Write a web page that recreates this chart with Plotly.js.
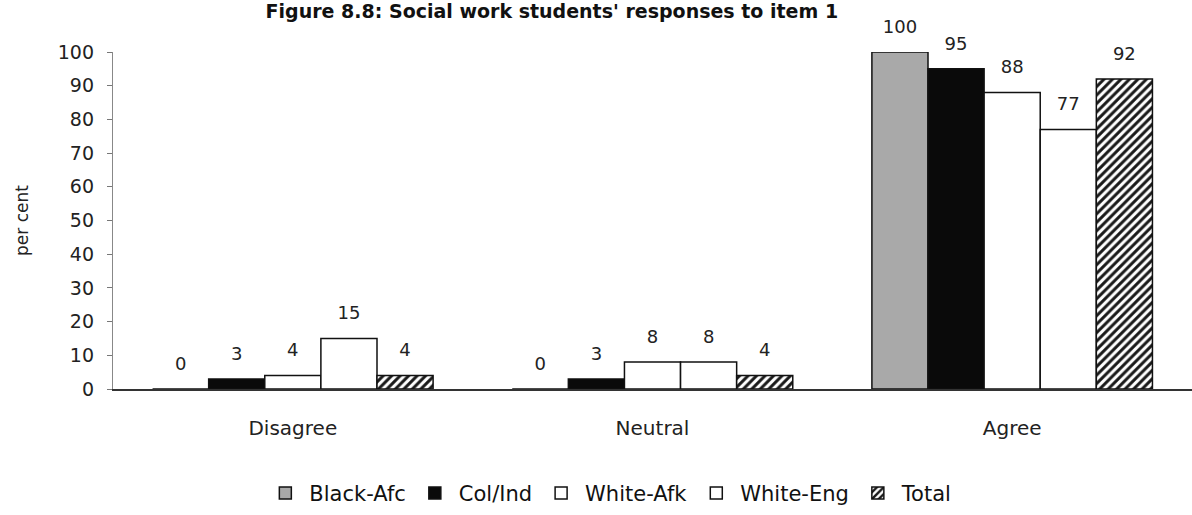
<!DOCTYPE html>
<html>
<head>
<meta charset="utf-8">
<script src="https://cdn.plot.ly/plotly-3.0.1.min.js"></script>
<style>
  html, body { margin: 0; padding: 0; background: #ffffff; }
  #chart { width: 1192px; height: 515px; }
</style>
</head>
<body>
<div id="chart"></div>
<script>
// Response categories on the x axis
const categories = ["Disagree", "Neutral", "Agree"];

// Percentages per student group
const groupNames = ["Black-Afc", "Col/Ind", "White-Afk", "White-Eng", "Total"];
const blackAfc  = [0, 0, 100];
const colInd    = [3, 3, 95];
const whiteAfk  = [4, 8, 88];
const whiteEng  = [15, 8, 77];
const total     = [4, 4, 92];

const yTicks = [0, 10, 20, 30, 40, 50, 60, 70, 80, 90, 100];

const FAMILY = "DejaVu Sans, Verdana, sans-serif";
const GAP = 0.22;

const fills = [
  { color: "#a9a9a9" },
  { color: "#0a0a0a" },
  { color: "#ffffff" },
  { color: "#ffffff" },
  { color: "#ffffff",
    pattern: { shape: "/", fgcolor: "#1a1a1a", bgcolor: "#ffffff", size: 6, solidity: 0.5 } }
];

const values = [blackAfc, colInd, whiteAfk, whiteEng, total];

// Bars, one trace per student group
const bars = values.map((v, i) => ({
  type: "bar",
  name: groupNames[i],
  x: categories,
  y: v,
  offsetgroup: "g" + i,
  marker: Object.assign({ line: { color: "#111", width: 1.5 } }, fills[i]),
  hoverinfo: "skip"
}));

// Value labels, grouped the same way so they sit over their bars
const labels = values.map((v, i) => ({
  type: "scatter",
  mode: "markers+text",
  x: categories,
  y: v,
  offsetgroup: "g" + i,
  text: v.map(String),
  textposition: "top center",
  textfont: { family: FAMILY, size: 18, color: "#222" },
  marker: { size: 22, opacity: 0 },
  cliponaxis: false,
  showlegend: false,
  hoverinfo: "skip"
}));

const layout = {
  width: 1192,
  height: 515,
  paper_bgcolor: "#ffffff",
  plot_bgcolor: "#ffffff",
  font: { family: FAMILY, size: 18, color: "#222" },
  title: {
    text: "Figure 8.8: Social work students' responses to item 1",
    font: { family: FAMILY, size: 19, color: "#111", weight: "bold" },
    x: 0.463,
    xanchor: "center",
    y: 0.977,
    yref: "container",
    yanchor: "middle"
  },
  margin: { l: 113, r: 0, t: 52, b: 126 },
  barmode: "group",
  bargap: GAP,
  bargroupgap: 0,
  scattermode: "group",
  scattergap: GAP,
  showlegend: true,
  legend: {
    orientation: "h",
    x: 0.46,
    xanchor: "center",
    y: -0.31,
    yanchor: "middle",
    font: { family: FAMILY, size: 21, color: "#111" },
    itemwidth: 38
  },
  xaxis: {
    type: "category",
    showline: true,
    linecolor: "#333",
    linewidth: 1.5,
    ticks: "",
    tickfont: { family: FAMILY, size: 20, color: "#222" },
    ticklabelstandoff: 20,
    showgrid: false,
    zeroline: false
  },
  yaxis: {
    range: [0, 100],
    tickvals: yTicks,
    ticktext: yTicks.map(String),
    ticks: "outside",
    ticklen: 5,
    tickcolor: "#777",
    showline: true,
    linecolor: "#888",
    linewidth: 1.2,
    showgrid: false,
    zeroline: false,
    ticklabelstandoff: 9,
    tickfont: { family: FAMILY, size: 19, color: "#222" },
    title: {
      text: "per cent",
      font: { family: FAMILY, size: 17, color: "#222" },
      standoff: 24
    }
  }
};

Plotly.newPlot("chart", bars.concat(labels), layout, { displayModeBar: false, staticPlot: true });
</script>
</body>
</html>
